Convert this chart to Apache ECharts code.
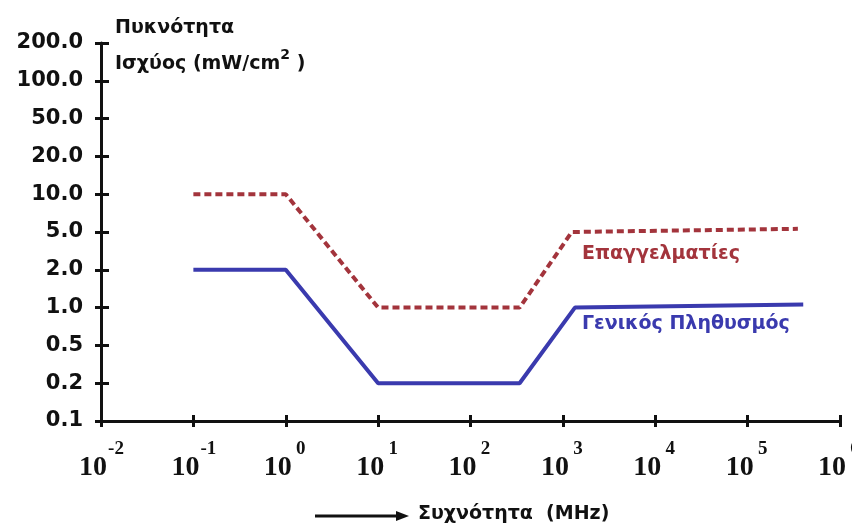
<!DOCTYPE html>
<html>
<head>
<meta charset="utf-8">
<script src="https://cdn.jsdelivr.net/npm/echarts@6/dist/echarts.min.js"></script>
<style>html,body{margin:0;padding:0;background:#fff}#c{width:852px;height:530px}</style>
</head>
<body>
<div id="c"></div>
<script>
// Y tick levels (equally spaced on the chart)
var yTicks = [0.1, 0.2, 0.5, 1, 2, 5, 10, 20, 50, 100, 200];
var yTickLabels = ['0.1', '0.2', '0.5', '1.0', '2.0', '5.0', '10.0', '20.0', '50.0', '100.0', '200.0'];
// Frequency (MHz)
var occFreq = [0.1, 1, 10, 340, 1250, 350000];
var occPower = [10, 10, 1, 1, 5, 5.3];
var genFreq = [0.1, 1, 10, 340, 1350, 400000];
var genPower = [2, 2, 0.2, 0.2, 1, 1.06];
var occName = 'Επαγγελματίες';
var genName = 'Γενικός Πληθυσμός';

function toIdx(v) {
  for (var i = 0; i < yTicks.length - 1; i++) {
    if (v >= yTicks[i] && v <= yTicks[i + 1]) {
      return i + (Math.log(v) - Math.log(yTicks[i])) / (Math.log(yTicks[i + 1]) - Math.log(yTicks[i]));
    }
  }
  return v < yTicks[0] ? 0 : yTicks.length - 1;
}
function pairs(xs, ys) { return xs.map(function (x, i) { return [x, toIdx(ys[i])]; }); }

var FONT = 'DejaVu Sans';
var SERIF = 'Liberation Serif';
var chart = echarts.init(document.getElementById('c'));
var axisBase = {
  axisLine: { show: true, lineStyle: { color: '#111', width: 3 } },
  splitLine: { show: false }
};
chart.setOption({
  animation: false,
  grid: { left: 101, right: 12, top: 43, bottom: 109, containLabel: false, outerBoundsMode: 'none' },
  xAxis: [
    Object.assign({}, axisBase, {
      type: 'log', logBase: 10, min: 0.01, max: 1e6, position: 'bottom',
      axisTick: { show: true, length: 6, lineStyle: { color: '#111', width: 3 } },
      minorTick: { show: false },
      axisLabel: {
        margin: 19, align: 'center', hideOverlap: false,
        formatter: function (v) {
          var e = Math.round(Math.log10(v));
          return '{b|10}{s|' + e + '}';
        },
        rich: {
          b: { fontFamily: SERIF, fontWeight: 'bold', fontSize: 28, color: '#111', lineHeight: 42, verticalAlign: 'bottom', width: 28, align: 'right' },
          s: { fontFamily: SERIF, fontWeight: 'bold', fontSize: 19, color: '#111', lineHeight: 19, verticalAlign: 'top', width: 14, align: 'left', padding: [0, 0, 0, 2] }
        }
      }
    }),
    {
      type: 'log', logBase: 10, min: 0.01, max: 1e6, position: 'bottom',
      axisLine: { show: false }, splitLine: { show: false },
      axisTick: { show: true, inside: true, length: 6, lineStyle: { color: '#111', width: 3 } },
      axisLabel: { show: false }
    }
  ],
  yAxis: [
    Object.assign({}, axisBase, {
      type: 'value', min: 0, max: 10, interval: 1, position: 'left',
      axisTick: { show: true, length: 6, lineStyle: { color: '#111', width: 3 } },
      axisLabel: {
        margin: 18, fontFamily: FONT, fontWeight: 'bold', fontSize: 21, color: '#111',
        formatter: function (v) { return yTickLabels[Math.round(v)]; }
      }
    }),
    {
      type: 'value', min: 0, max: 10, interval: 1, position: 'left',
      axisLine: { show: false }, splitLine: { show: false },
      axisTick: { show: true, inside: true, length: 8, lineStyle: { color: '#111', width: 3 } },
      axisLabel: { show: false }
    }
  ],
  series: [
    {
      name: occName, type: 'line', xAxisIndex: 0, yAxisIndex: 0, symbol: 'none',
      data: pairs(occFreq, occPower),
      lineStyle: { color: '#a3343c', width: 4, type: [7, 4] }
    },
    {
      name: genName, type: 'line', xAxisIndex: 0, yAxisIndex: 0, symbol: 'none',
      data: pairs(genFreq, genPower),
      lineStyle: { color: '#3a3aae', width: 4 }
    }
  ],
  graphic: [
    { type: 'text', left: 115, top: 19, style: { text: 'Πυκνότητα', fontFamily: FONT, fontWeight: 'bold', fontSize: 19, fill: '#111' } },
    { type: 'text', left: 115, top: 48, style: {
      text: '{a|Ισχύος (mW/cm}{s|2}{a| )}',
      rich: {
        a: { fontFamily: FONT, fontWeight: 'bold', fontSize: 19, fill: '#111', lineHeight: 26, verticalAlign: 'bottom' },
        s: { fontFamily: FONT, fontWeight: 'bold', fontSize: 14, fill: '#111', lineHeight: 14, verticalAlign: 'top' }
      } } },
    { type: 'text', left: 582, top: 245, style: { text: occName, fontFamily: FONT, fontWeight: 'bold', fontSize: 19, fill: '#a3343c' } },
    { type: 'text', left: 582, top: 315, style: { text: genName, fontFamily: FONT, fontWeight: 'bold', fontSize: 19, fill: '#3a3aae' } },
    { type: 'line', shape: { x1: 315, y1: 516, x2: 398, y2: 516 }, style: { stroke: '#111', lineWidth: 3 } },
    { type: 'polygon', shape: { points: [[396, 511], [409, 516], [396, 521]] }, style: { fill: '#111' } },
    { type: 'text', left: 418, top: 505, style: { text: 'Συχνότητα  (MHz)', fontFamily: FONT, fontWeight: 'bold', fontSize: 19, fill: '#111' } }
  ]
});
</script>
</body>
</html>
